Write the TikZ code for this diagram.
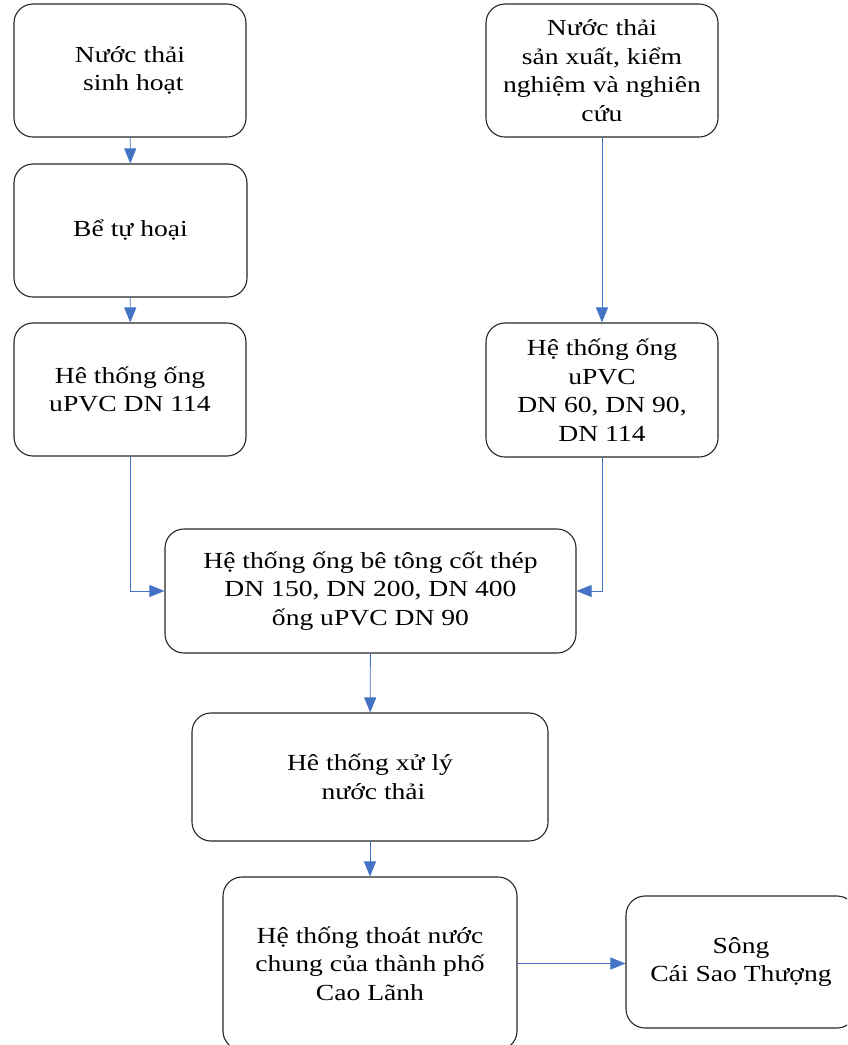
\documentclass[tikz,border=0pt]{standalone}
\usepackage{fontspec}
\setmainfont{Liberation Serif}[FakeStretch=1.2]
\usetikzlibrary{arrows.meta}
\definecolor{flowblue}{HTML}{4472C4}
\definecolor{boxline}{HTML}{262626}
\begin{document}
\begin{tikzpicture}[x=1pt,y=-1pt,
  stage/.style={draw=boxline, line width=1.1pt, rounded corners=19pt,
    inner sep=0pt, align=center, font=\fontsize{23}{28.5}\selectfont},
  flow/.style={draw=flowblue, line width=0.9pt,
    -{Triangle[length=15pt,width=12pt]}}]
\useasboundingbox (0,0) rectangle (847,1045);
\clip (0,0) rectangle (847,1045);

% left column: domestic wastewater
\node[stage, minimum width=232pt, minimum height=133pt] (dom) at (130,70.5)
  {Nước thải\\\ sinh hoạt};
\node[stage, minimum width=233pt, minimum height=133pt] (septic) at (130.5,230.5)
  {Bể tự hoại};
\node[stage, minimum width=232pt, minimum height=133pt] (pipeL) at (130,389.5)
  {Hê thống ống\\uPVC DN 114};

% right column: production, testing and research wastewater
\node[stage, minimum width=232pt, minimum height=133pt] (prod) at (602,70.5)
  {Nước thải\\sản xuất, kiểm\\nghiệm và nghiên\\cứu};
\node[stage, minimum width=232pt, minimum height=134pt] (pipeR) at (602,390)
  {Hệ thống ống\\uPVC\\DN 60, DN 90,\\DN 114};

% common line
\node[stage, minimum width=411pt, minimum height=124pt] (main) at (370.5,591)
  {Hệ thống ống bê tông cốt thép\\DN 150, DN 200, DN 400\\ống uPVC DN 90};
\node[stage, minimum width=356pt, minimum height=128pt] (treat) at (370,777)
  {Hê thống xử lý\\\ nước thải};
\node[stage, minimum width=294pt, minimum height=173pt] (drain) at (370,963.5)
  {Hệ thống thoát nước\\chung của thành phố\\Cao Lãnh};
\node[stage, minimum width=230pt, minimum height=132pt] (river) at (741,962)
  {Sông\\Cái Sao Thượng};

% connectors
\draw[flow] (dom) -- (septic);
\draw[flow] (septic) -- (pipeL);
\draw[flow] (prod) -- (pipeR);
\draw[flow] (pipeL.south) -- (pipeL.south |- main.west) -- (main.west);
\draw[flow] (pipeR.south) -- (pipeR.south |- main.east) -- (main.east);
\draw[flow] (main) -- (treat);
\draw[flow] (treat) -- (drain);
\draw[flow] (drain.east) -- (drain.east -| river.west);
\end{tikzpicture}
\end{document}
